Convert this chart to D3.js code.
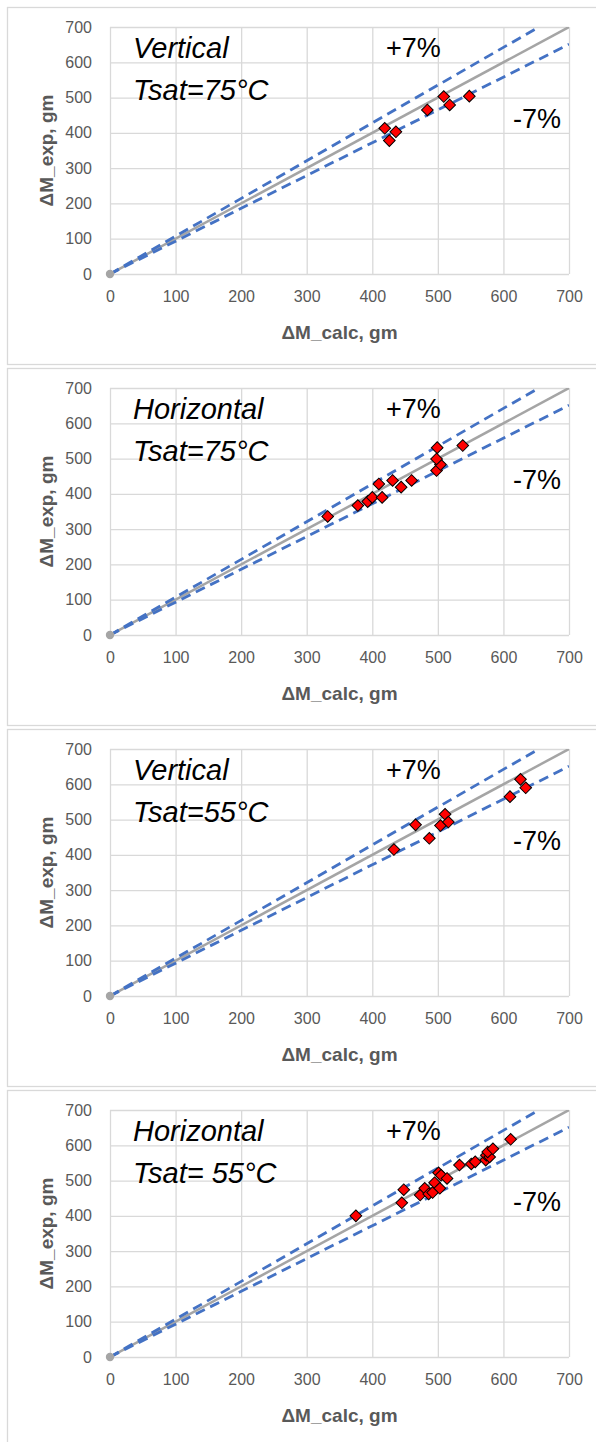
<!DOCTYPE html>
<html>
<head>
<meta charset="utf-8">
<script src="https://cdn.jsdelivr.net/npm/d3@7"></script>
<style>
  body { margin: 0; background: #fff; }
  text { font-family: "Liberation Sans", Arial, sans-serif; }
</style>
</head>
<body>
<svg id="chart"></svg>
<script>
// tick values shared by both axes
var ticks = [0, 100, 200, 300, 400, 500, 600, 700];

// reference lines (calc, exp)
var lineExact = [[0, 0], [700, 700]];
var linePlus7 = [[0, 0], [654, 700]];
var lineMinus7 = [[0, 0], [700, 651]];

// Vertical, Tsat=75
var v75Calc = [419, 436, 426, 484, 509, 518, 548];
var v75Exp  = [413, 403, 378, 465, 503, 479, 504];

// Horizontal, Tsat=75
var h75Calc = [332, 378, 393, 400, 410, 415, 431, 444, 460, 498, 504, 498, 499, 538];
var h75Exp  = [336, 367, 378, 390, 428, 390, 438, 419, 438, 466, 483, 499, 531, 537];

// Vertical, Tsat=55
var v55Calc = [433, 466, 487, 504, 511, 516, 610, 626, 634];
var v55Exp  = [415, 485, 447, 483, 515, 493, 565, 614, 590];

// Horizontal, Tsat=55
var h55Calc = [375, 445, 448, 473, 480, 486, 492, 495, 503, 501, 505, 514, 533, 551, 557, 573, 574, 579, 576, 584, 611];
var h55Exp  = [400, 437, 474, 459, 478, 462, 466, 494, 478, 522, 515, 506, 544, 547, 553, 558, 572, 567, 581, 590, 617];

var panels = [
    { line1: "Vertical",   line2: "Tsat=75°C",  calc: v75Calc, exp: v75Exp },
    { line1: "Horizontal", line2: "Tsat=75°C",  calc: h75Calc, exp: h75Exp },
    { line1: "Vertical",   line2: "Tsat=55°C",  calc: v55Calc, exp: v55Exp },
    { line1: "Horizontal", line2: "Tsat= 55°C", calc: h55Calc, exp: h55Exp }
];

var width = 596, height = 1442;
var panelTop = 7, panelStep = 361, panelHeight = 357;
var margin = {top: 20, left: 103};
var plotWidth = 459, plotHeight = 247;

var x = d3.scaleLinear().domain([0, 700]).range([0, plotWidth]);
var y = d3.scaleLinear().domain([0, 700]).range([plotHeight, 0]);

var svg = d3.select("#chart")
    .attr("width", width)
    .attr("height", height);

svg.append("defs").append("clipPath")
    .attr("id", "plotclip")
    .append("rect")
    .attr("width", plotWidth)
    .attr("height", plotHeight);

var line = d3.line()
    .x(function(d) { return x(d[0]); })
    .y(function(d) { return y(d[1]); });

var diamond = d3.symbol().type(d3.symbolSquare).size(68);

function styleTicks(a) {
    a.select(".domain").remove();
    a.selectAll(".tick text")
        .attr("fill", "#595959")
        .style("font-size", "16px")
        .style("font-family", "Liberation Sans, Arial, sans-serif");
}

function styleGrid(a) {
    a.select(".domain").remove();
    a.selectAll(".tick line").attr("stroke", "#d9d9d9").attr("stroke-width", 1.3);
}

panels.forEach(function(p, i) {
    var panel = svg.append("g")
        .attr("transform", "translate(7," + (panelTop + i * panelStep) + ")");

    // chart frame
    panel.append("rect")
        .attr("x", 0.5).attr("y", 0.5)
        .attr("width", 600).attr("height", panelHeight)
        .attr("fill", "#fff")
        .attr("stroke", "#d9d9d9")
        .attr("stroke-width", 1.3);

    var g = panel.append("g")
        .attr("transform", "translate(" + margin.left + "," + margin.top + ")");

    // gridlines
    g.append("g")
        .call(d3.axisLeft(y).tickValues(ticks).tickSize(-plotWidth).tickFormat(""))
        .call(styleGrid);
    g.append("g")
        .attr("transform", "translate(0," + plotHeight + ")")
        .call(d3.axisBottom(x).tickValues(ticks).tickSize(-plotHeight).tickFormat(""))
        .call(styleGrid);

    // tick labels
    g.append("g")
        .call(d3.axisLeft(y).tickValues(ticks).tickSize(0).tickPadding(18))
        .call(styleTicks);
    g.append("g")
        .attr("transform", "translate(0," + plotHeight + ")")
        .call(d3.axisBottom(x).tickValues(ticks).tickSize(0).tickPadding(17))
        .call(styleTicks);

    // axis titles
    g.append("text")
        .attr("x", plotWidth / 2)
        .attr("y", plotHeight + 65)
        .attr("text-anchor", "middle")
        .attr("fill", "#595959")
        .style("font-size", "19px")
        .style("font-weight", "bold")
        .text("ΔM_calc, gm");
    g.append("text")
        .attr("transform", "translate(-57," + (plotHeight / 2) + ") rotate(-90)")
        .attr("text-anchor", "middle")
        .attr("fill", "#595959")
        .style("font-size", "19px")
        .style("font-weight", "bold")
        .text("ΔM_exp, gm");

    // lines
    var lines = g.append("g").attr("clip-path", "url(#plotclip)");
    lines.append("path")
        .attr("d", line(lineExact))
        .attr("fill", "none")
        .attr("stroke", "#a5a5a5")
        .attr("stroke-width", 2.5);
    [linePlus7, lineMinus7].forEach(function(l) {
        lines.append("path")
            .attr("d", line(l))
            .attr("fill", "none")
            .attr("stroke", "#4472c4")
            .attr("stroke-width", 2.8)
            .attr("stroke-dasharray", "10,6");
    });
    g.append("circle")
        .attr("cx", x(lineExact[0][0]))
        .attr("cy", y(lineExact[0][1]))
        .attr("r", 4.2)
        .attr("fill", "#a5a5a5");

    // points
    g.append("g")
        .selectAll("path")
        .data(p.calc.map(function(c, j) { return [c, p.exp[j]]; }))
        .enter().append("path")
        .attr("d", diamond)
        .attr("transform", function(d) {
            return "translate(" + x(d[0]) + "," + y(d[1]) + ") rotate(45)";
        })
        .attr("fill", "#ff0000")
        .attr("stroke", "#000")
        .attr("stroke-width", 1);

    // annotations
    panel.append("text")
        .attr("x", 126).attr("y", 51)
        .style("font-size", "29px")
        .style("font-style", "italic")
        .attr("fill", "#000")
        .text(p.line1);
    panel.append("text")
        .attr("x", 126).attr("y", 93)
        .style("font-size", "29px")
        .style("font-style", "italic")
        .attr("fill", "#000")
        .text(p.line2);
    panel.append("text")
        .attr("x", 379).attr("y", 50)
        .style("font-size", "27px")
        .attr("fill", "#000")
        .text("+7%");
    panel.append("text")
        .attr("x", 506).attr("y", 121)
        .style("font-size", "27px")
        .attr("fill", "#000")
        .text("-7%");
});
</script>
</body>
</html>
